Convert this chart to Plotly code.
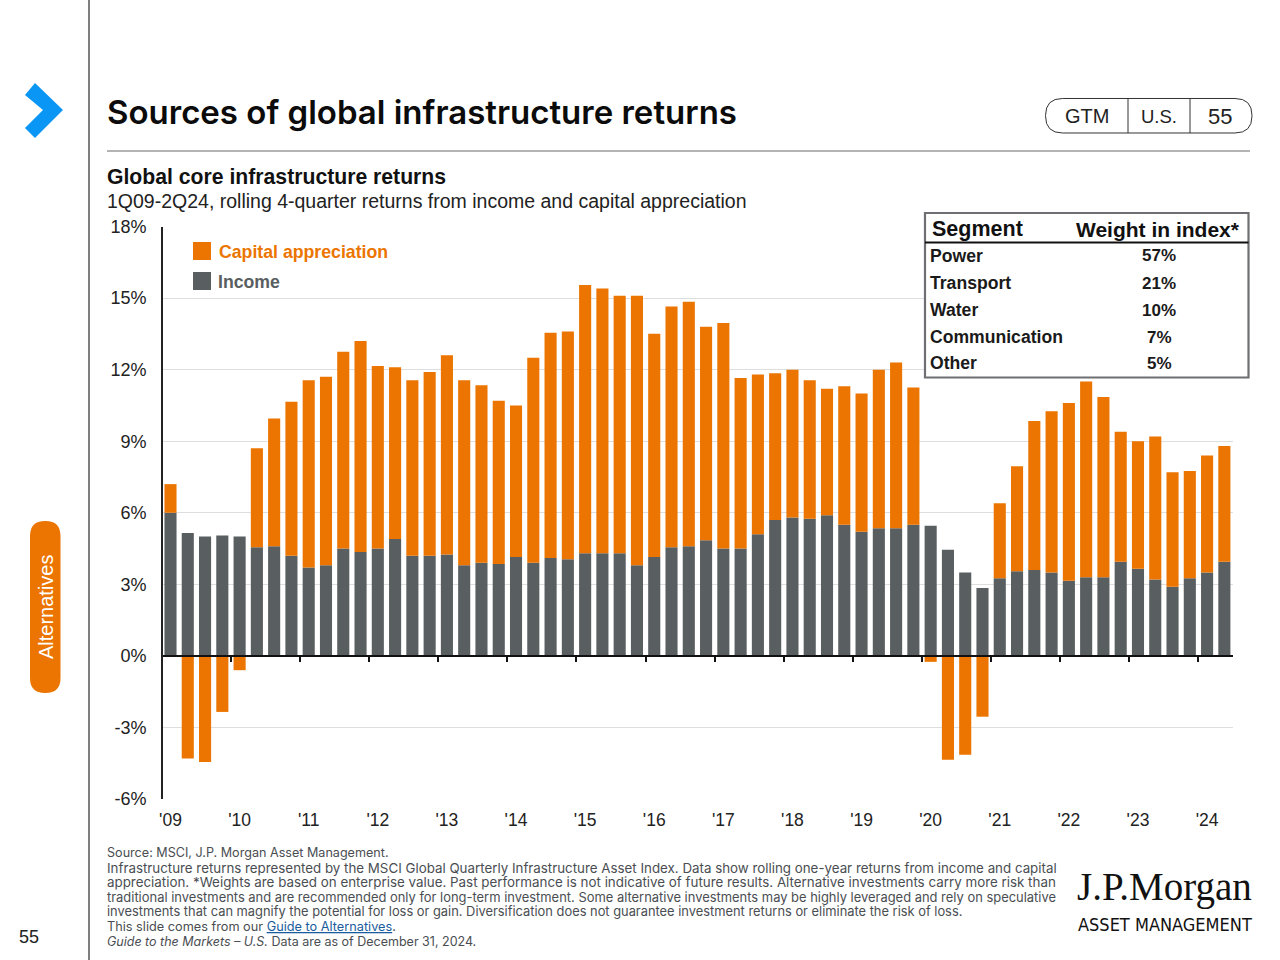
import plotly.graph_objects as go

years = ["'09","'10","'11","'12","'13","'14","'15","'16","'17","'18","'19","'20","'21","'22","'23","'24"]
quarters = list(range(62))
income = [6.0,5.15,5.0,5.05,5.0,4.55,4.6,4.2,3.7,3.8,4.5,4.35,4.5,4.9,4.2,4.2,4.25,3.8,3.9,3.85,4.15,3.9,4.1,4.05,
          4.3,4.3,4.3,3.8,4.15,4.55,4.6,4.85,4.5,4.5,5.1,5.7,5.8,5.75,5.9,5.5,5.2,5.35,5.35,5.5,5.45,4.45,3.5,2.85,
          3.25,3.55,3.6,3.5,3.15,3.3,3.3,3.95,3.65,3.2,2.9,3.25,3.5,3.95]
capital = [1.2,-4.3,-4.45,-2.35,-0.6,4.15,5.35,6.45,7.85,7.9,8.25,8.85,7.65,7.2,7.35,7.7,8.35,7.75,7.45,6.85,6.35,8.6,9.45,9.55,
           11.25,11.1,10.8,11.3,9.35,10.1,10.25,8.95,9.45,7.15,6.7,6.15,6.2,5.8,5.3,5.8,5.8,6.65,6.95,5.75,-0.25,-4.35,-4.15,-2.55,
           3.15,4.4,6.25,6.75,7.45,8.2,7.55,5.45,5.35,6.0,4.8,4.5,4.9,4.85]
segments = ["Power","Transport","Water","Communication","Other"]
weights = ["57%","21%","10%","7%","5%"]
year_ticks = list(range(0, 64, 4))
sep_ticks = [i + 3.5 for i in range(0, 60, 4)]
y_ticks = [-6,-3,0,3,6,9,12,15,18]
y_labels = ["-6%","-3%","0%","3%","6%","9%","12%","15%","18%"]

ORANGE = "#EB7500"
GREY = "#595E61"
W, H = 1280, 960
def px(x): return x / W
def py(y): return 1 - y / H

anns, shapes = [], []
def text(x, y, s, size, color="#111", family="Liberation Sans", anchor="left", weight=None, angle=0):
    f = dict(size=size, color=color, family=family)
    if weight: f["weight"] = weight
    anns.append(dict(x=px(x), y=py(y), xref="paper", yref="paper", text=s, showarrow=False, font=f,
                     xanchor=anchor, yanchor="middle", align=anchor, textangle=angle, borderpad=0, borderwidth=0))
def rect(x0, y0, x1, y1, fill=None, line=None, lw=0):
    shapes.append(dict(type="rect", xref="paper", yref="paper", x0=px(x0), x1=px(x1), y0=py(y0), y1=py(y1),
                       fillcolor=fill or "rgba(0,0,0,0)", line=dict(color=line or "rgba(0,0,0,0)", width=lw), layer="above"))
def seg(x0, y0, x1, y1, color, lw=1):
    shapes.append(dict(type="line", xref="paper", yref="paper", x0=px(x0), x1=px(x1), y0=py(y0), y1=py(y1),
                       line=dict(color=color, width=lw), layer="above"))
def path(pts, fill=None, line=None, lw=0):
    shapes.append(dict(type="path", xref="paper", yref="paper", path=pts, fillcolor=fill or "rgba(0,0,0,0)",
                       line=dict(color=line or "rgba(0,0,0,0)", width=lw), layer="above"))
def poly(points):
    return "M" + " L".join(f"{px(a):.5f},{py(b):.5f}" for a, b in points) + " Z"
def rounded(x0, y0, x1, y1, r):
    return (f"M{px(x0+r):.5f},{py(y0):.5f} L{px(x1-r):.5f},{py(y0):.5f} Q{px(x1):.5f},{py(y0):.5f} {px(x1):.5f},{py(y0+r):.5f} "
            f"L{px(x1):.5f},{py(y1-r):.5f} Q{px(x1):.5f},{py(y1):.5f} {px(x1-r):.5f},{py(y1):.5f} "
            f"L{px(x0+r):.5f},{py(y1):.5f} Q{px(x0):.5f},{py(y1):.5f} {px(x0):.5f},{py(y1-r):.5f} "
            f"L{px(x0):.5f},{py(y0+r):.5f} Q{px(x0):.5f},{py(y0):.5f} {px(x0+r):.5f},{py(y0):.5f} Z")

# page furniture
seg(89, 0, 89, 960, "#555", 1.5)
path(poly([(25,95),(35,83),(63,110),(35,138),(25,128),(43,110)]), fill="#0A96F5")
text(107, 112, "Sources of global infrastructure returns", 33, "#0b0b0b", "Inter", weight=600)
seg(107, 151, 1250, 151, "#6a6a6a", 1.2)
path(rounded(1045.5, 98.5, 1252, 133, 17), line="#333", lw=1)
seg(1128, 98.5, 1128, 133, "#333", 1)
seg(1190, 98.5, 1190, 133, "#333", 1)
text(1087, 116, "GTM", 20, "#222", anchor="center")
text(1159, 116, "U.S.", 18.5, "#222", anchor="center")
text(1220, 116, "55", 22, "#222", anchor="center")
text(107, 177, "<b>Global core infrastructure returns</b>", 21.2, "#111")
text(107, 201, "1Q09-2Q24, rolling 4-quarter returns from income and capital appreciation", 19.5, "#222")

# side tab
path(rounded(30, 521, 60.5, 693, 15), fill=ORANGE)
text(46, 607, "Alternatives", 20, "#fff", anchor="center", angle=-90)
text(29, 937, "55", 18, "#222", anchor="center")

# legend
rect(193, 242, 211, 260, fill=ORANGE)
rect(193, 272, 211, 290, fill=GREY)
text(219, 252, "<b>Capital appreciation</b>", 17.7, ORANGE)
text(218, 282, "<b>Income</b>", 17.7, GREY)

# table
rect(925, 213, 1248.5, 377.5, fill="#fff", line="#6d6f72", lw=2.2)
seg(925, 242.5, 1248.5, 242.5, "#111", 2)
text(932, 229, "<b>Segment</b>", 21.5, "#111")
text(1076, 229, "<b>Weight in index*</b>", 21, "#111")
for s, w, yy in zip(segments, weights, [256, 283, 310, 337, 363]):
    text(930, yy, f"<b>{s}</b>", 17.6, "#1a1a1a")
    text(1159, yy, f"<b>{w}</b>", 17, "#1a1a1a", anchor="center")

# footnotes
FC = "#4a4e52"
FF = "Inter"
text(107, 852.5, "Source: MSCI, J.P. Morgan Asset Management.", 12.6, FC, FF)
text(107, 867.5, "Infrastructure returns represented by the MSCI Global Quarterly Infrastructure Asset Index. Data show rolling one-year returns from income and capital", 13.33, FC, FF)
text(107, 882, "appreciation. *Weights are based on enterprise value. Past performance is not indicative of future results. Alternative investments carry more risk than", 13.37, FC, FF)
text(107, 897, "traditional investments and are recommended only for long-term investment. Some alternative investments may be highly leveraged and rely on speculative", 12.93, FC, FF)
text(107, 911.5, "investments that can magnify the potential for loss or gain. Diversification does not guarantee investment returns or eliminate the risk of loss.", 12.86, FC, FF)
text(107, 926.5, 'This slide comes from our <span style="color:#1a5c9e;text-decoration:underline">Guide to Alternatives</span>.', 12.73, FC, FF)
text(107, 941, "<i>Guide to the Markets – U.S.</i> Data are as of December 31, 2024.", 12.5, FC, FF)

# logo
text(1164.5, 887, "J.P.Morgan", 39, "#111", "Liberation Serif", anchor="center")
text(1164.5, 924, "ASSET MANAGEMENT", 18, "#111", "DejaVu Sans Condensed", anchor="center")

fig = go.Figure()
fig.add_bar(x=quarters, y=income, name="Income", marker=dict(color=GREY, line=dict(width=0)), showlegend=False)
fig.add_bar(x=quarters, y=capital, name="Capital appreciation", marker=dict(color=ORANGE, line=dict(width=0)), showlegend=False)
fig.add_scatter(x=[0], y=[0], xaxis="x2", mode="markers", marker=dict(opacity=0), showlegend=False, hoverinfo="skip")

fig.update_layout(
    width=W, height=H, margin=dict(l=0, r=0, t=0, b=0, autoexpand=False), paper_bgcolor="#fff", plot_bgcolor="#fff",
    barmode="relative", bargap=0.3, showlegend=False,
    font=dict(family="Liberation Sans", color="#222"),
    xaxis=dict(domain=[px(163), px(1233)], range=[-0.434, 61.5], tickmode="array",
               tickvals=year_ticks, ticktext=years, ticks="", showgrid=False, zeroline=False,
               showline=False, tickfont=dict(size=17.5, color="#222"), ticklabelstandoff=8),
    xaxis2=dict(overlaying="x", matches="x", anchor="free", position=py(655.5), tickmode="array", tickvals=sep_ticks,
                ticktext=[""] * len(sep_ticks), ticks="outside", ticklen=5, tickwidth=1.5, tickcolor="#111",
                showline=True, linecolor="#111", linewidth=2, showgrid=False, zeroline=False),
    yaxis=dict(domain=[py(799), py(226.5)], range=[-6, 18], tickmode="array", tickvals=y_ticks, ticktext=y_labels,
               showgrid=True, gridcolor="#dedede", gridwidth=1.2, zeroline=False, showline=True, linecolor="#222",
               linewidth=1.6, ticks="", tickfont=dict(size=18, color="#222"), ticklabelstandoff=11),
    shapes=shapes, annotations=anns,
)
fig.write_html("out.html", config=dict(displayModeBar=False), post_script="document.body.style.margin='0';")
